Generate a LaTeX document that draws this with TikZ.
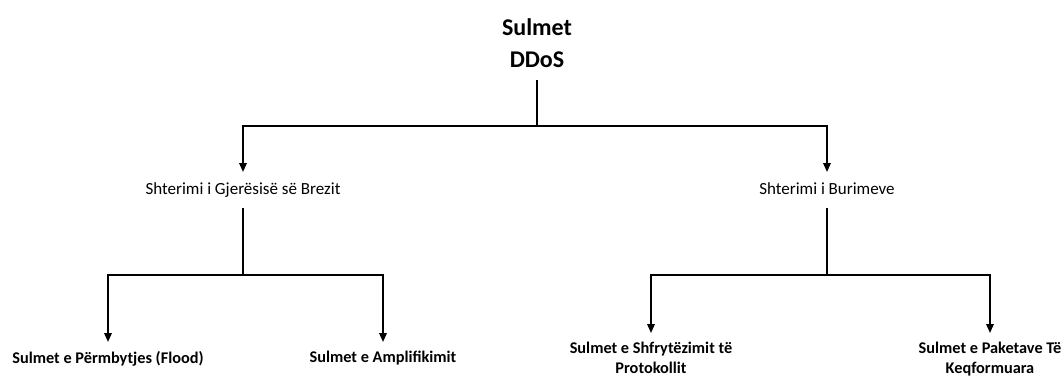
\documentclass[tikz,border=0pt]{standalone}
\usepackage{fontspec}
\setmainfont{Carlito}
\usetikzlibrary{arrows.meta}
\begin{document}
\begin{tikzpicture}[x=1pt,y=-1pt,
  link/.style={line width=1.8pt},
  arrowlink/.style={link,-{Triangle[length=9pt,width=7.5pt]}},
  rootbox/.style={font=\fontsize{24}{32}\selectfont\bfseries, align=center,
    inner xsep=0pt, inner ysep=12.5pt, anchor=south},
  midbox/.style={font=\fontsize{17}{20}\selectfont, inner xsep=0pt,
    inner ysep=10pt, text height=12pt, text depth=4pt, anchor=north},
  leafbox/.style={font=\fontsize{16.3}{20}\selectfont\bfseries, align=center,
    inner xsep=0pt, inner ysep=9pt, anchor=north},
]
\useasboundingbox (0,0) rectangle (1062,380);

% hierarchy of attack classes
\node[rootbox] (root) at (537,80) {Sulmet\\DDoS};
\node[midbox] (bw) at (243,172) {Shterimi i Gjerësisë së Brezit};
\node[midbox] (res) at (827,172) {Shterimi i Burimeve};
\node[leafbox] (flood) at (108,342) {Sulmet e Përmbytjes (Flood)};
\node[leafbox] (amp) at (383,342) {Sulmet e Amplifikimit};
\node[leafbox] (proto) at (651,333) {Sulmet e Shfrytëzimit të\\Protokollit};
\node[leafbox] (malf) at (990,333) {Sulmet e Paketave Të\\Keqformuara};

% junction points of the tree
\coordinate (j0) at (537,126);
\coordinate (j1) at (243,275);
\coordinate (j2) at (827,275);

\draw[link] (root.south) -- (j0);
\draw[arrowlink] (j0) -| (bw.north);
\draw[arrowlink] (j0) -| (res.north);

\draw[link] (bw.south) -- (j1);
\draw[arrowlink] (j1) -| (flood.north);
\draw[arrowlink] (j1) -| (amp.north);

\draw[link] (res.south) -- (j2);
\draw[arrowlink] (j2) -| (proto.north);
\draw[arrowlink] (j2) -| (malf.north);
\end{tikzpicture}
\end{document}
